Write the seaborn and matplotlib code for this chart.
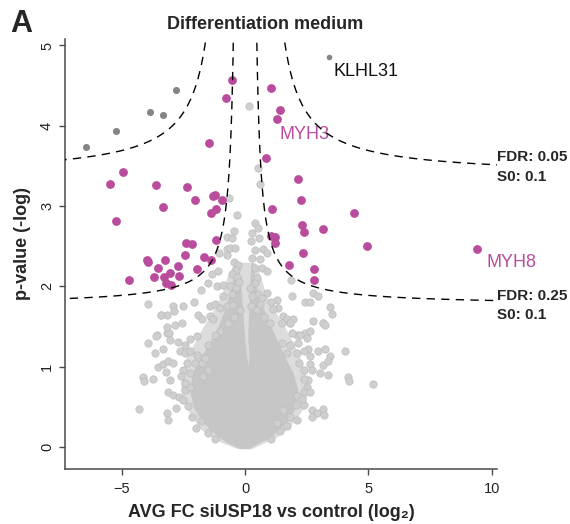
import numpy as np
import pandas as pd
import matplotlib
matplotlib.use("Agg")
import matplotlib.pyplot as plt
import seaborn as sns

# significant proteins (magenta)
sig_x = [-0.52, -0.78, 1.04, 1.42, 1.30, -1.47, 0.83, -4.95, -5.49, -3.61,
         -2.37, -1.22, -1.28, 2.15, -2.01, -0.93, -3.34, -1.17, -1.37, -5.23,
         -2.39, -2.16, -1.16, -2.43, -1.65, -1.38, -3.98, -3.93, -3.24, -3.51,
         -2.72, -1.96, -3.03, -2.66, -3.68, -3.30, -4.69, -3.20, -2.99, 2.27,
         1.08, 4.41, 2.32, 2.38, 3.17, 1.04, 1.22, 1.22, 4.96, 2.34,
         1.78, 2.81, 2.81, 9.39]
sig_y = [4.57, 4.34, 4.47, 4.20, 4.09, 3.79, 3.60, 3.43, 3.28, 3.26,
         3.24, 3.14, 3.12, 3.34, 3.07, 3.07, 2.99, 2.96, 2.91, 2.81,
         2.54, 2.53, 2.58, 2.39, 2.37, 2.33, 2.33, 2.30, 2.33, 2.23,
         2.26, 2.22, 2.17, 2.13, 2.12, 2.12, 2.08, 2.04, 2.02, 3.07,
         2.96, 2.91, 2.76, 2.68, 2.71, 2.63, 2.62, 2.54, 2.50, 2.42,
         2.27, 2.22, 2.08, 2.47]

# dark grey points
dark_x = [-6.45, -5.23, -3.84, -3.31, -2.81]
dark_y = [3.73, 3.94, 4.17, 4.13, 4.44]
klhl_x, klhl_y = 3.40, 4.86

# light grey background proteins (the ones that stand out around the dense core)
grey_pts = [
    (0.51, 3.47), (0.61, 3.27), (-0.64, 3.10), (0.17, 4.25), (-0.34, 2.89),
    (0.41, 2.79), (0.51, 2.73), (-0.45, 2.69), (0.27, 2.66), (-0.72, 2.62),
    (0.24, 2.56), (0.74, 2.46), (0.41, 2.45), (-0.74, 2.46), (-0.61, 2.48),
    (-0.41, 2.48), (0.88, 2.41), (-0.74, 2.39), (-1.04, 2.42), (0.61, 2.34),
    (-0.45, 2.31), (-0.27, 2.27), (-1.08, 2.19), (0.41, 2.23), (0.68, 2.23),
    (0.88, 2.19), (-0.36, 2.21), (-1.35, 2.15), (-0.54, 2.15), (-0.31, 2.12),
    (-1.49, 2.04), (0.47, 2.10), (0.41, 2.04), (0.20, 1.98), (1.85, 2.08),
    (-1.15, 2.00), (-0.88, 2.02), (-0.61, 2.00), (-0.36, 1.98), (-1.80, 1.95),
    (2.74, 1.92), (2.97, 1.88), (1.91, 1.88), (0.88, 1.92), (0.54, 1.90),
    (0.68, 1.86), (-3.92, 1.78), (-2.07, 1.80), (-2.91, 1.76), (-2.50, 1.75),
    (-1.42, 1.75), (-1.22, 1.78), (-1.01, 1.73), (-0.74, 1.75), (-0.47, 1.77),
    (1.28, 1.83), (1.35, 1.73), (1.15, 1.72), (2.43, 1.80), (2.63, 1.80),
    (3.45, 1.74), (3.51, 1.66), (-3.42, 1.65), (-3.17, 1.64), (-2.84, 1.52),
    (-2.57, 1.55), (-1.89, 1.65), (-1.76, 1.59), (-1.42, 1.63), (-1.28, 1.59),
    (1.53, 1.63), (1.69, 1.59), (1.82, 1.54), (1.96, 1.59), (2.77, 1.57),
    (3.17, 1.54), (-3.58, 1.39), (-3.17, 1.42), (2.10, 1.40), (2.43, 1.42),
    (2.63, 1.44), (-1.00, 1.45), (-0.70, 1.55), (-0.45, 1.62), (-0.20, 1.70),
    (0.25, 1.75), (0.50, 1.70), (0.75, 1.62), (1.00, 1.55), (-1.20, 1.40),
    (0.60, 1.78), (-0.90, 1.88), (-0.55, 1.90), (0.30, 1.88), (1.05, 1.80),
    (-0.25, 2.05), (0.30, 2.35), (-0.55, 2.60), (0.55, 2.60),
    (-4.30, 0.47), (-4.12, 0.87), (-3.72, 0.85), (-3.15, 0.42), (-2.80, 0.49),
    (-3.92, 1.30), (-3.65, 1.17), (-3.61, 1.38), (-3.34, 1.22), (-3.08, 1.42),
    (-3.04, 1.33), (-2.70, 1.31), (-3.15, 1.50), (-3.51, 1.00), (-3.34, 1.04),
    (-3.11, 1.07), (-2.93, 1.05), (-3.20, 0.93), (-3.04, 0.84), (-3.11, 0.69),
    (-2.91, 0.65), (-2.66, 0.62), (-2.53, 0.59), (-2.43, 0.71), (-2.23, 0.75),
    (-2.30, 0.51), (-2.16, 0.38), (-1.99, 0.24), (-2.63, 1.19), (-2.43, 1.17),
    (-2.23, 1.20), (-2.36, 1.05), (-2.53, 0.96), (-2.23, 0.92), (-1.96, 1.38),
    (-2.23, 1.34), (-2.43, 1.27), (-1.96, 1.15), (-1.76, 1.05), (-1.62, 1.11),
    (-1.49, 1.27), (-1.49, 0.96), (-1.69, 0.88), (-3.40, 1.64), (-2.88, 1.69),
    (1.49, 1.54), (1.82, 1.54), (1.89, 1.42), (2.23, 1.40), (2.16, 1.30),
    (2.50, 1.36), (2.57, 1.22), (3.15, 1.54), (3.24, 1.52), (1.49, 1.30),
    (1.82, 1.27), (1.69, 1.17), (2.10, 1.17), (2.37, 1.19), (2.63, 1.13),
    (2.97, 1.19), (3.24, 1.22), (3.45, 1.13), (3.18, 1.02), (3.38, 1.07),
    (4.05, 1.20), (3.04, 0.92), (3.38, 0.90), (4.19, 0.87), (2.63, 1.04),
    (2.37, 0.96), (2.70, 0.96), (2.57, 0.84), (2.50, 0.75), (2.37, 0.69),
    (2.10, 0.63), (2.63, 0.69), (2.37, 0.52), (2.70, 0.46), (3.18, 0.47),
    (2.91, 0.42), (2.70, 0.38), (2.10, 0.34), (1.69, 0.26), (1.82, 0.38),
    (1.55, 0.46), (1.28, 0.30), (4.22, 0.82), (5.18, 0.78), (-4.11, 0.82),
    (-3.13, 0.34), (3.19, 0.40), (-1.80, 0.32), (-1.50, 0.18), (-1.20, 0.10),
    (1.40, 0.20), (1.05, 0.10), (2.05, 0.52), (2.30, 0.60), (-2.45, 0.80),
    (-2.60, 0.88), (2.40, 0.85), (2.20, 1.05), (-2.05, 1.05),
]
grey = pd.DataFrame(grey_pts, columns=["fc", "p"])

# the cloud itself: a medium-density band and a solid core (rows of p, fc bounds)
core_y = [-0.02, 0.05, 0.12, 0.21, 0.34, 0.50, 0.70, 0.92, 1.10, 1.30, 1.50, 1.70, 1.90, 2.10, 2.30]
band_left = [-0.30, -0.90, -1.35, -1.75, -2.10, -2.40, -2.60, -2.60, -2.40, -2.05, -1.70, -1.30, -0.95, -0.75, -0.45]
band_right = [0.25, 0.75, 1.25, 1.65, 2.05, 2.40, 2.55, 2.45, 2.25, 1.95, 1.60, 1.20, 0.85, 0.65, 0.40]
core_left = [-0.20, -0.70, -1.05, -1.40, -1.80, -2.10, -2.25, -2.15, -1.85, -1.45, -1.10, -0.85, -0.65, -0.50, -0.40]
notch_left = [0.15, 0.15, 0.15, 0.15, 0.15, 0.15, 0.15, 0.15, 0.08, 0.00, -0.05, -0.10, -0.15, -0.20, -0.30]
notch_right = [0.05, 0.05, 0.05, 0.05, 0.05, 0.05, 0.05, 0.05, 0.16, 0.12, 0.12, 0.15, 0.18, 0.20, 0.25]
core_right = [0.15, 0.55, 1.00, 1.35, 1.75, 2.05, 2.15, 1.95, 1.65, 1.35, 1.05, 0.78, 0.50, 0.40, 0.32]

# significance curves y = c + a / (|x| - x0)
curves = {"0.05": (3.37, 1.35, 0.80), "0.25": (1.765, 0.58, 0.30)}

magenta = "#B94C9C"

sns.set_style("ticks")
plt.rcParams["font.family"] = ["Liberation Sans", "DejaVu Sans"]

fig = plt.figure(figsize=(5.7, 5.24), dpi=100)
ax = fig.add_axes([0.1132, 0.1055, 0.7581, 0.8200])

ax.fill_betweenx(core_y, band_left, band_right, color="#DCDCDC", lw=0, zorder=1)
ax.fill_betweenx(core_y, core_left, notch_left, color="#C6C6C6", lw=0, zorder=1)
ax.fill_betweenx(core_y, notch_right, core_right, color="#C6C6C6", lw=0, zorder=1)
sns.scatterplot(data=grey, x="fc", y="p", ax=ax, s=28, color="#CFCFCF",
                edgecolor="#BDBDBD", linewidth=0.5, zorder=2)
sns.scatterplot(x=dark_x, y=dark_y, ax=ax, s=26, color="#858585", linewidth=0, zorder=3)
sns.scatterplot(x=[klhl_x], y=[klhl_y], ax=ax, s=16, color="#858585", linewidth=0, zorder=3)
sns.scatterplot(x=sig_x, y=sig_y, ax=ax, s=40, color=magenta, linewidth=0, zorder=3)

xlo, xhi = -7.32, 10.2
for key, (c, a, x0) in curves.items():
    xs = np.linspace(x0 + 0.005, xhi + 0.5, 800)
    ys = c + a / (xs - x0)
    for sgn in (-1, 1):
        ax.plot(sgn * xs, ys, color="black", lw=1.0, dashes=(6, 4.5), zorder=4)

ax.set_xlim(xlo, xhi)
ax.set_ylim(-0.27, 5.08)
ax.set_xticks([-5, 0, 5, 10])
ax.set_yticks([0, 1, 2, 3, 4, 5])
ax.set_xlabel("")
ax.set_ylabel("")
sns.despine(ax=ax)
for sp in ("left", "bottom"):
    ax.spines[sp].set_color("#4A4A4A")
    ax.spines[sp].set_linewidth(1.1)
ax.tick_params(axis="both", direction="out", length=4.5, width=1.0,
               color="#4A4A4A", labelsize=10.5, labelcolor="#222222")
ax.tick_params(axis="x", pad=5)
ax.tick_params(axis="y", pad=3)
for lab in ax.get_yticklabels():
    lab.set_rotation(90)
    lab.set_va("center")

# annotations
ax.text(3.58, 4.62, "KLHL31", fontsize=13, color="#111111", va="baseline")
ax.text(1.39, 3.84, "MYH3", fontsize=13, color=magenta, va="baseline")
ax.text(9.77, 2.24, "MYH8", fontsize=13, color=magenta, va="baseline", clip_on=False)
ax.text(10.23, 3.56, "FDR: 0.05", fontsize=11, fontweight="bold", va="baseline", clip_on=False)
ax.text(10.23, 3.31, "S0: 0.1", fontsize=11, fontweight="bold", va="baseline", clip_on=False)
ax.text(10.23, 1.83, "FDR: 0.25", fontsize=11, fontweight="bold", va="baseline", clip_on=False)
ax.text(10.23, 1.59, "S0: 0.1", fontsize=11, fontweight="bold", va="baseline", clip_on=False)

fig.text(0.4644, 0.944, "Differentiation medium", fontsize=13, fontweight="bold",
         ha="center", va="baseline")
fig.text(0.0175, 0.939, "A", fontsize=22, fontweight="bold", ha="left", va="baseline")
fig.text(0.4754, 0.0139, "AVG FC siUSP18 vs control (log₂)", fontsize=13,
         fontweight="bold", ha="center", va="baseline")
fig.text(0.0386, 0.5355, "p-value (-log)", fontsize=13, fontweight="bold",
         ha="center", va="center", rotation=90)

fig.savefig("out.png", dpi=100)
